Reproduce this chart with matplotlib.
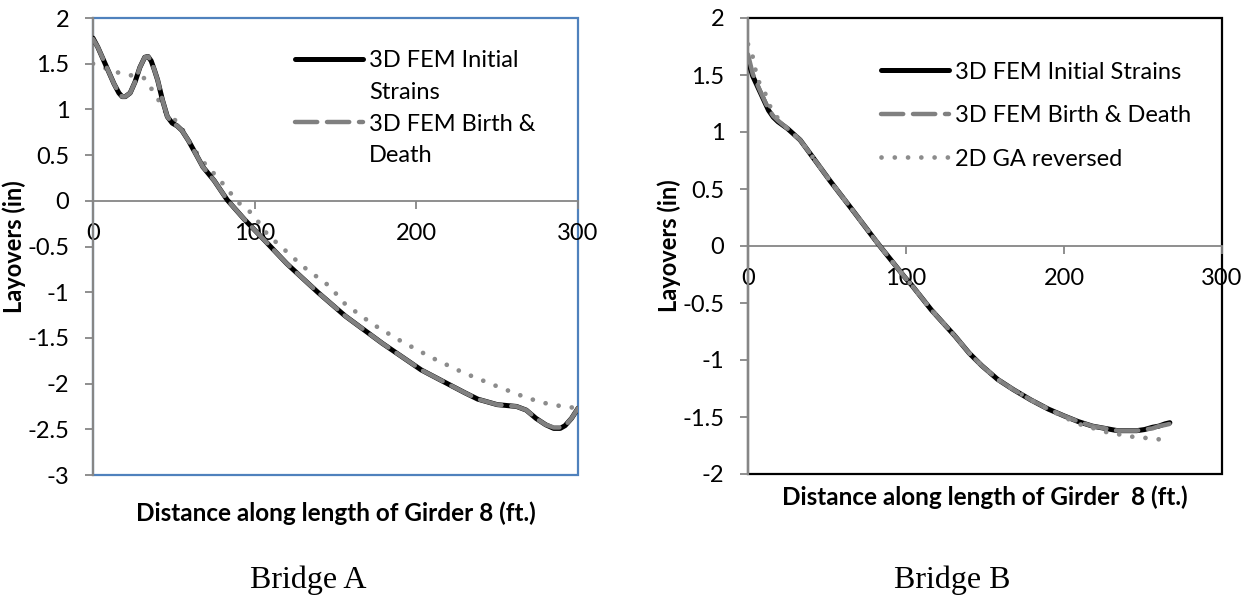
import matplotlib
matplotlib.use('Agg')
import matplotlib.pyplot as plt
from matplotlib.lines import Line2D
from matplotlib.ticker import MultipleLocator, FuncFormatter

# Bridge A - layovers along Girder 8
bridge_a_x = [0, 3, 6, 10, 13, 16, 18, 20, 23, 26, 29, 32, 34, 36, 38, 40, 43, 46, 49, 52,
              55, 59, 64, 68, 75, 83, 94, 106, 120, 139, 156, 179, 203, 217, 230, 238, 250,
              262, 268, 274, 280, 285, 289, 292, 296, 300]
bridge_a_fem_initial = [1.78, 1.68, 1.56, 1.40, 1.28, 1.18, 1.14, 1.14, 1.18, 1.30, 1.46,
                        1.57, 1.58, 1.53, 1.43, 1.32, 1.10, 0.92, 0.85, 0.82, 0.77, 0.66,
                        0.50, 0.37, 0.22, 0.01, -0.21, -0.43, -0.69, -1.00, -1.26, -1.56,
                        -1.85, -1.98, -2.10, -2.17, -2.23, -2.25, -2.29, -2.38, -2.45,
                        -2.49, -2.49, -2.46, -2.38, -2.27]
bridge_a_fem_birth = [1.77, 1.68, 1.56, 1.40, 1.28, 1.18, 1.14, 1.14, 1.18, 1.30, 1.46,
                      1.57, 1.58, 1.53, 1.43, 1.32, 1.10, 0.92, 0.85, 0.82, 0.77, 0.66,
                      0.50, 0.37, 0.22, 0.01, -0.21, -0.43, -0.69, -1.00, -1.26, -1.56,
                      -1.85, -1.98, -2.10, -2.17, -2.23, -2.25, -2.29, -2.38, -2.45,
                      -2.48, -2.48, -2.46, -2.38, -2.27]
bridge_a_ga_x = [0, 14, 21, 28, 32, 36, 40, 44, 48, 53, 59, 67, 73, 77, 82, 90, 96, 101,
                 108, 120, 130, 146, 156, 173, 191, 210, 229, 250, 269, 283, 300]
bridge_a_ga = [1.50, 1.41, 1.38, 1.36, 1.34, 1.23, 1.12, 0.99, 0.91, 0.86, 0.66, 0.45,
               0.33, 0.26, 0.15, -0.02, -0.10, -0.20, -0.37, -0.56, -0.72, -0.93, -1.13,
               -1.35, -1.54, -1.72, -1.88, -2.03, -2.16, -2.23, -2.27]

# Bridge B
bridge_b_x = [0, 3, 8, 13, 16, 19, 25, 33, 42, 52, 67, 79, 84, 99, 104, 116, 131, 140, 148,
              158, 168, 179, 190, 200, 209, 218, 226, 234, 241, 246, 251, 256, 260, 264, 267]
bridge_b_fem_initial = [1.63, 1.49, 1.34, 1.19, 1.13, 1.09, 1.03, 0.93, 0.76, 0.57, 0.30,
                        0.08, -0.01, -0.27, -0.35, -0.56, -0.79, -0.94, -1.05, -1.17,
                        -1.26, -1.35, -1.43, -1.49, -1.54, -1.58, -1.60, -1.62, -1.62,
                        -1.62, -1.61, -1.59, -1.58, -1.56, -1.55]
bridge_b_fem_birth = [1.68, 1.51, 1.35, 1.20, 1.14, 1.10, 1.03, 0.93, 0.76, 0.57, 0.30,
                      0.08, -0.01, -0.27, -0.35, -0.56, -0.79, -0.94, -1.05, -1.17,
                      -1.26, -1.35, -1.43, -1.49, -1.54, -1.58, -1.60, -1.62, -1.62,
                      -1.62, -1.61, -1.60, -1.58, -1.57, -1.56]
bridge_b_ga_x = [0, 3, 6, 10, 15, 19, 25, 33, 42, 52, 67, 79, 84, 99, 104, 116, 131, 140,
                 148, 158, 168, 179, 190, 200, 209, 219, 226, 234, 241, 249, 256, 263]
bridge_b_ga = [1.77, 1.66, 1.46, 1.37, 1.19, 1.12, 1.03, 0.93, 0.76, 0.57, 0.30, 0.08,
               -0.01, -0.27, -0.35, -0.56, -0.79, -0.94, -1.05, -1.17, -1.26, -1.35,
               -1.43, -1.50, -1.56, -1.60, -1.63, -1.65, -1.67, -1.68, -1.69, -1.70]

x_ticks = [0, 100, 200, 300]

FONT = 'Lato'
AXIS_GRAY = '#868686'
BLUE = '#4F81BD'
LINE_GRAY = '#808080'
DOT_GRAY = '#8C8C8C'


def fmt(v, pos):
    return '%g' % v if v != 0 else '0'


def style_axes(ax, ymin, ymax, frame_color):
    ax.set_xlim(0, 300)
    ax.set_ylim(ymin, ymax)
    ax.set_xticks(x_ticks)
    ax.yaxis.set_major_locator(MultipleLocator(0.5))
    ax.yaxis.set_major_formatter(FuncFormatter(fmt))
    ax.xaxis.set_major_formatter(FuncFormatter(fmt))

    # frame of plot area
    ax.add_patch(plt.Rectangle((0, 0), 1, 1, transform=ax.transAxes, fill=False,
                               edgecolor=frame_color, lw=1.6, zorder=0.5, clip_on=False))
    ax.spines['top'].set_visible(False)
    ax.spines['right'].set_visible(False)
    ax.spines['left'].set_color(AXIS_GRAY)
    ax.spines['left'].set_linewidth(1.6)
    ax.spines['bottom'].set_position(('data', 0))
    ax.spines['bottom'].set_color(AXIS_GRAY)
    ax.spines['bottom'].set_linewidth(1.3)

    ax.tick_params(axis='y', direction='out', length=6, width=1.3, color=AXIS_GRAY,
                   pad=11, labelsize=17)
    ax.tick_params(axis='x', direction='out', length=6, width=1.3, color=AXIS_GRAY,
                   pad=10, labelsize=17)
    for lab in ax.get_xticklabels() + ax.get_yticklabels():
        lab.set_fontfamily(FONT)

    ax.set_ylabel('Layovers (in)', fontsize=17, fontweight='bold', family=FONT, labelpad=1)


def plot_data():
    fig = plt.figure(figsize=(12.49, 5.99), dpi=100)
    W, H = 1249, 599

    # Bridge A
    ax1 = fig.add_axes([93 / W, 1 - 475 / H, 485 / W, 457 / H])
    l1, = ax1.plot(bridge_a_x, bridge_a_fem_initial, color='black', lw=3.6,
                   solid_capstyle='round', solid_joinstyle='round', zorder=3)
    l2, = ax1.plot(bridge_a_x, bridge_a_fem_birth, color=LINE_GRAY, lw=3.2,
                   dashes=(5, 2.2), dash_capstyle='round', zorder=4)
    ax1.plot(bridge_a_ga_x, bridge_a_ga, color=DOT_GRAY, lw=3.4,
             dashes=(0.01, 2.8), dash_capstyle='round', zorder=2)
    style_axes(ax1, -3, 2, BLUE)
    blank = Line2D([], [], color='none')
    ax1.legend([l1, blank, l2, blank],
               ['3D FEM Initial', 'Strains', '3D FEM Birth &', 'Death'],
               loc='upper left', bbox_to_anchor=(0.397, 0.95), frameon=False,
               prop={'family': FONT, 'size': 17}, handlelength=2.9, handletextpad=0.25,
               labelspacing=0.45, borderaxespad=0)
    fig.text(336 / W, 1 - 513 / H, 'Distance along length of Girder 8 (ft.)',
             ha='center', va='center', fontsize=17.5, fontweight='bold', family=FONT)
    fig.text(308 / W, 1 - 580 / H, 'Bridge A', ha='center', va='center',
             fontsize=23, family='Liberation Serif')

    # Bridge B
    ax2 = fig.add_axes([748 / W, 1 - 474 / H, 474 / W, 456 / H])
    m1, = ax2.plot(bridge_b_x, bridge_b_fem_initial, color='black', lw=3.6,
                   solid_capstyle='round', solid_joinstyle='round', zorder=3)
    m2, = ax2.plot(bridge_b_x, bridge_b_fem_birth, color=LINE_GRAY, lw=3.2,
                   dashes=(5, 2.2), dash_capstyle='round', zorder=4)
    m3, = ax2.plot(bridge_b_ga_x, bridge_b_ga, color=DOT_GRAY, lw=3.4,
                   dashes=(0.01, 2.8), dash_capstyle='round', zorder=5)
    style_axes(ax2, -2, 2, 'black')
    ax2.legend([m1, m2, m3],
               ['3D FEM Initial Strains', '3D FEM Birth & Death', '2D GA reversed'],
               loc='upper left', bbox_to_anchor=(0.26, 0.925), frameon=False,
               prop={'family': FONT, 'size': 17}, handlelength=2.9, handletextpad=0.25,
               labelspacing=0.95, borderaxespad=0)
    fig.text(985 / W, 1 - 497 / H, 'Distance along length of Girder  8 (ft.)',
             ha='center', va='center', fontsize=17.5, fontweight='bold', family=FONT)
    fig.text(952 / W, 1 - 580 / H, 'Bridge B', ha='center', va='center',
             fontsize=23, family='Liberation Serif')

    fig.savefig('out.png', dpi=100)


def main():
    plot_data()


if __name__ == '__main__':
    main()
